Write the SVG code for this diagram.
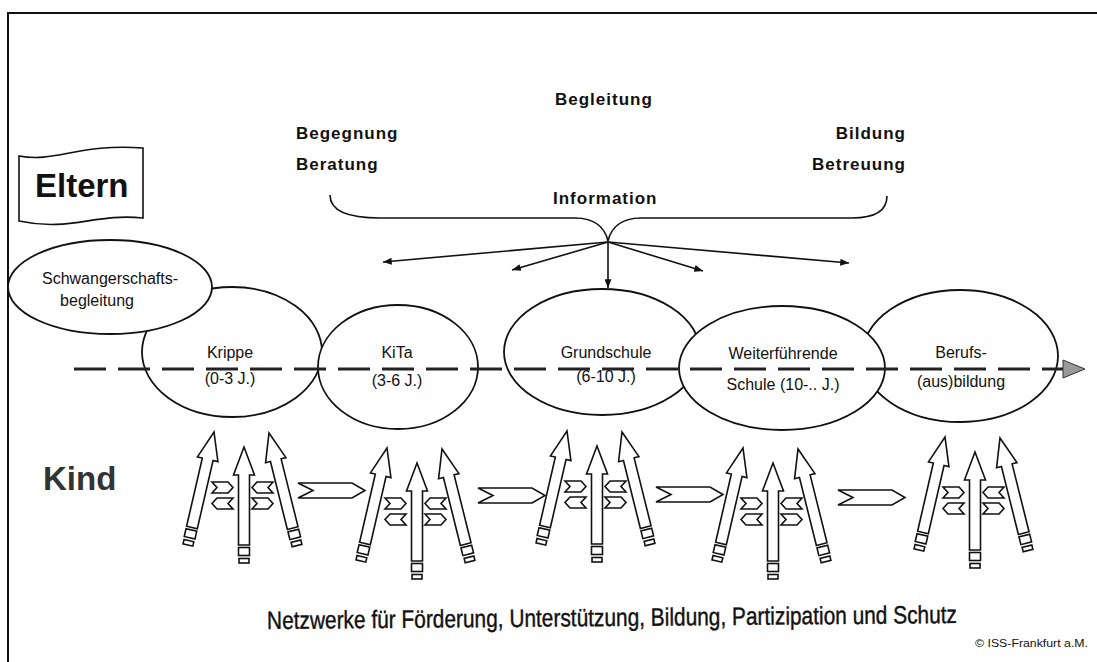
<svg xmlns="http://www.w3.org/2000/svg" width="1097" height="662" viewBox="0 0 1097 662">
<style>
.ln{fill:none;stroke:#111;stroke-width:1.6}
.el{fill:#fff;stroke:#111;stroke-width:1.8}
.lbl{font-family:"Liberation Sans",Arial,sans-serif;font-size:16px;fill:#111;text-anchor:middle}
.top{font-family:"Liberation Sans",Arial,sans-serif;font-size:17px;font-weight:bold;fill:#111;letter-spacing:1px}
.big{font-family:"Liberation Sans",Arial,sans-serif;font-size:33px;font-weight:bold}
.sh{fill:#fff;stroke:#111;stroke-width:1.6;stroke-linejoin:miter}
</style>
<defs>
<marker id="ah" viewBox="0 0 10 8" refX="10" refY="4" markerWidth="9" markerHeight="7" markerUnits="userSpaceOnUse" orient="auto">
<path d="M0,0 L10,4 L0,8 z" fill="#111"/>
</marker>
<g id="uparrow">
<path class="sh" d="M0,0 L10.5,28 L5.5,28 L5.5,98 L-5.5,98 L-5.5,28 L-10.5,28 Z"/>
<rect class="sh" x="-5.5" y="100.5" width="11" height="8"/>
<rect class="sh" x="-5" y="111.5" width="10" height="4.5"/>
</g>
<path id="chR" class="sh" d="M0,0 L16,0 L21,5.5 L16,11 L0,11 L5,5.5 Z"/>
<path id="chL" class="sh" d="M21,0 L5,0 L0,5.5 L5,11 L21,11 L16,5.5 Z"/>
<g id="cluster">
<use href="#uparrow" transform="translate(-30,-15) rotate(13)"/>
<use href="#uparrow"/>
<use href="#uparrow" transform="translate(25,-14) rotate(-14)"/>
<use href="#chR" x="-32" y="35"/>
<use href="#chL" x="-32" y="51"/>
<use href="#chL" x="8" y="35"/>
<use href="#chR" x="8" y="51"/>
</g>
<path id="bigch" class="sh" d="M0,0 L54,0 L67,7.5 L54,15 L0,15 L15,7.5 Z"/>
</defs>
<rect width="1097" height="662" fill="#fff"/>
<g id="frame" stroke="#111" stroke-width="2" fill="none">
<path d="M8,662 L8,13 L1097,13"/>
</g>
<g id="eltern">
<path d="M19,156 C55,163 80,143 143,148 L143,218 C95,213 70,232 19,221 Z" fill="#fff" stroke="#111" stroke-width="1.6"/>
<text class="big" x="35" y="197" fill="#111">Eltern</text>
</g>
<g id="kind">
<text class="big" x="43" y="490" fill="#333" font-size="32">Kind</text>
</g>
<g id="themes">
<text class="top" x="555" y="105">Begleitung</text>
<text class="top" x="296" y="139">Begegnung</text>
<text class="top" x="296" y="170">Beratung</text>
<text class="top" x="906" y="139" text-anchor="end">Bildung</text>
<text class="top" x="906" y="170" text-anchor="end">Betreuung</text>
<text class="top" x="553" y="204">Information</text>
</g>
<g id="brace">
<path class="ln" d="M330,195 C330,210 345,218 380,218 L575,218 C595,218 605,228 608,241 C611,228 621,218 641,218 L852,218 C876,218 887,210 887,196"/>
</g>
<g id="connectors" class="ln">
<line x1="608" y1="242" x2="383" y2="262" marker-end="url(#ah)"/>
<line x1="608" y1="242" x2="512" y2="270" marker-end="url(#ah)"/>
<line x1="608" y1="242" x2="608" y2="288" marker-end="url(#ah)"/>
<line x1="608" y1="242" x2="703" y2="271" marker-end="url(#ah)"/>
<line x1="608" y1="242" x2="849" y2="263" marker-end="url(#ah)"/>
</g>
<g id="n-krippe"><ellipse class="el" cx="232" cy="352" rx="90" ry="65"/></g>
<g id="n-kita"><ellipse class="el" cx="398" cy="367" rx="80" ry="62"/></g>
<g id="n-grundschule"><ellipse class="el" cx="602" cy="352" rx="98" ry="63"/></g>
<g id="n-beruf"><ellipse class="el" cx="960" cy="356" rx="98" ry="66"/></g>
<g id="n-weiter"><ellipse class="el" cx="782" cy="368" rx="103" ry="62"/></g>
<g id="n-schwanger"><ellipse class="el" cx="110" cy="287" rx="102" ry="47"/>
<text class="lbl" x="110" y="284">Schwangerschafts-</text>
<text class="lbl" x="97" y="306">begleitung</text>
</g>
<g id="timeline">
<line x1="74" y1="369" x2="1064" y2="369" stroke="#222" stroke-width="3" stroke-dasharray="32 12"/>
<path d="M1063,360 L1085,369 L1063,378 Z" fill="#999" stroke="#333" stroke-width="1"/>
</g>
<g id="labels">
<text class="lbl" x="230" y="358">Krippe</text>
<text class="lbl" x="230" y="384">(0-3 J.)</text>
<text class="lbl" x="397" y="358">KiTa</text>
<text class="lbl" x="397" y="386">(3-6 J.)</text>
<text class="lbl" x="606" y="358">Grundschule</text>
<text class="lbl" x="606" y="382">(6-10 J.)</text>
<text class="lbl" x="783" y="359">Weiterführende</text>
<text class="lbl" x="783" y="390">Schule (10-.. J.)</text>
<text class="lbl" x="961" y="358">Berufs-</text>
<text class="lbl" x="961" y="387">(aus)bildung</text>
</g>
<g id="kids">
<use href="#cluster" transform="translate(244,447)"/>
<use href="#cluster" transform="translate(417,463)"/>
<use href="#cluster" transform="translate(597,446)"/>
<use href="#cluster" transform="translate(773,463)"/>
<use href="#cluster" transform="translate(975,452)"/>
<use href="#bigch" x="298" y="483"/>
<use href="#bigch" x="478" y="488"/>
<use href="#bigch" x="656" y="487"/>
<use href="#bigch" x="838" y="490"/>
</g>
<g id="footer">
<text x="267" y="626" font-family="'Liberation Sans',Arial,sans-serif" font-size="25" fill="#111" stroke="#111" stroke-width="0.4" textLength="690" lengthAdjust="spacingAndGlyphs" transform="rotate(-0.5 612 620)">Netzwerke für Förderung, Unterstützung, Bildung, Partizipation und Schutz</text>
<text x="975" y="647" font-family="'Liberation Sans',Arial,sans-serif" font-size="10.5" fill="#111" textLength="113" lengthAdjust="spacingAndGlyphs">© ISS-Frankfurt a.M.</text>
</g>
</svg>
